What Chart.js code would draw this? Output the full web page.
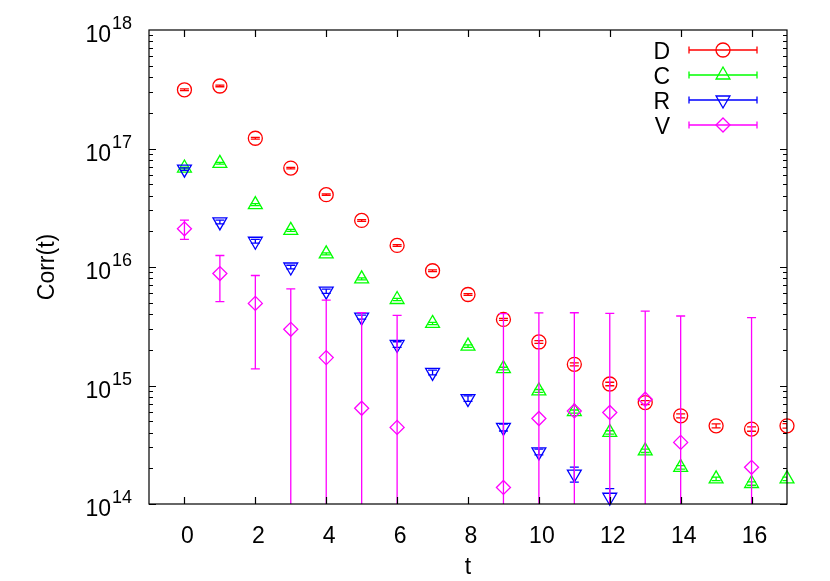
<!DOCTYPE html>
<html>
<head>
<meta charset="utf-8">
<script src="https://cdn.jsdelivr.net/npm/chart.js@4/dist/chart.umd.min.js"></script>
<style>
  html, body { margin: 0; padding: 0; background: #fff; }
  #wrap { width: 830px; height: 581px; }
</style>
</head>
<body>
<div id="wrap"><canvas id="corrChart" width="830" height="581"></canvas></div>
<script>
'use strict';

// time slices and tick positions
const T_VALUES = [0, 1, 2, 3, 4, 5, 6, 7, 8, 9, 10, 11, 12, 13, 14, 15, 16, 17];
const X_TICKS = [0, 2, 4, 6, 8, 10, 12, 14, 16];
const Y_TICKS = [1e14, 1e15, 1e16, 1e17, 1e18];

// correlators (null = not shown)
const D_CORR = [3.13e17, 3.37e17, 1.22e17, 6.84e16, 4.08e16, 2.47e16, 1.52e16, 9.3e15, 5.86e15,
  3.61e15, 2.33e15, 1.51e15, 1.03e15, 7.18e14, 5.55e14, 4.57e14, 4.29e14, 4.57e14];
const D_ERR = [5e15, 5e15, 2e15, 1e15, 6e14, 4e14, 2.5e14, 1.5e14, 1e14,
  7e13, 6e13, 4.5e13, 3.5e13, 2.7e13, 2.2e13, 1.8e13, 1.8e13, 2e13];

const C_CORR = [6.84e16, 7.5e16, 3.36e16, 2.04e16, 1.29e16, 7.94e15, 5.32e15, 3.34e15, 2.15e15,
  1.39e15, 9.0e14, 6.03e14, 4.02e14, 2.81e14, 2.04e14, 1.63e14, 1.49e14, 1.63e14];
const C_ERR = [1.2e15, 1.3e15, 6e14, 4e14, 2.6e14, 1.6e14, 1.1e14, 7e13, 5e13,
  3.5e13, 2.5e13, 1.8e13, 1.3e13, 9e12, 7e12, 5.5e12, 5e12, 5.5e12];

const R_CORR = [6.7e16, 2.4e16, 1.65e16, 1.0e16, 6.25e15, 3.78e15, 2.22e15, 1.29e15, 7.76e14,
  4.43e14, 2.75e14, 1.79e14, 1.14e14, null, null, null, null, null];
const R_ERR = [1.5e15, 9e14, 6e14, 3.5e14, 2.5e14, 1.5e14, 1.2e14, 6e13, 4e13,
  3e13, 1.5e13, 2.6e13, 2.1e13, null, null, null, null, null];

const V_CORR = [2.1e16, 8.8e15, 4.93e15, 2.98e15, 1.72e15, 6.43e14, 4.43e14, null, null,
  1.38e14, 5.27e14, 6.1e14, 5.92e14, 7.65e14, 3.31e14, null, 2.04e14, null];
const V_ERR = [3.9e15, 3.7e15, 3.55e15, 3.57e15, 3.53e15, 3.47e15, 3.47e15, null, null,
  3.9e15, 3.58e15, 3.5e15, 3.47e15, 3.48e15, 3.53e15, null, 3.53e15, null];

const FONT = 'Liberation Sans, Arial, Helvetica, sans-serif';
const LINE_W = 1.3;
const CAP = 4.5;

const SERIES = [
  { label: 'D', values: D_CORR, errors: D_ERR, color: '#ff0000', style: 'circle', radius: 7, rotation: 0 },
  { label: 'C', values: C_CORR, errors: C_ERR, color: '#00ff00', style: 'triangle', radius: 8, rotation: 0 },
  { label: 'R', values: R_CORR, errors: R_ERR, color: '#0000ff', style: 'triangle', radius: 8, rotation: 180 },
  { label: 'V', values: V_CORR, errors: V_ERR, color: '#ff00ff', style: 'rectRot', radius: 7, rotation: 0 },
];

const makeDataset = (s, idx) => {
  const data = [];
  const errors = [];
  T_VALUES.forEach((t, i) => {
    if (s.values[i] == null) return;
    data.push({ x: t, y: s.values[i] });
    errors.push(s.errors[i]);
  });
  return {
    label: s.label,
    data,
    errors,
    showLine: false,
    clip: false,
    order: SERIES.length - idx,
    pointStyle: s.style,
    pointRotation: s.rotation,
    pointRadius: s.radius,
    pointHoverRadius: s.radius,
    pointBorderWidth: LINE_W,
    pointBorderColor: s.color,
    pointBackgroundColor: 'rgba(0,0,0,0)',
    borderColor: s.color,
  };
};

// vertical error bars, drawn right after each dataset so the stacking matches
const errorBarPlugin = {
  id: 'errorBars',
  afterDatasetDraw(chart, args) {
    const ds = chart.data.datasets[args.index];
    const { ctx, chartArea: area, scales: { x, y } } = chart;
    ctx.save();
    ctx.beginPath();
    ctx.rect(area.left, area.top, area.right - area.left, area.bottom - area.top);
    ctx.clip();
    ctx.strokeStyle = ds.borderColor;
    ctx.lineWidth = LINE_W;
    ds.data.forEach((pt, i) => {
      const err = ds.errors[i];
      if (err == null) return;
      const px = x.getPixelForValue(pt.x);
      const lo = pt.y - err;
      const yHi = y.getPixelForValue(pt.y + err);
      const yLo = lo > 0 ? y.getPixelForValue(lo) : area.bottom + 20;
      ctx.beginPath();
      ctx.moveTo(px, yLo);
      ctx.lineTo(px, yHi);
      ctx.moveTo(px - CAP, yHi);
      ctx.lineTo(px + CAP, yHi);
      if (lo > 0) {
        ctx.moveTo(px - CAP, yLo);
        ctx.lineTo(px + CAP, yLo);
      }
      ctx.stroke();
    });
    ctx.restore();
  },
};

// gnuplot-ish frame: border, inward ticks on all sides, 10^n labels, key
const framePlugin = {
  id: 'frame',
  afterDraw(chart) {
    const { ctx, chartArea: a, scales: { x, y } } = chart;
    ctx.save();
    ctx.strokeStyle = '#000';
    ctx.lineWidth = 1.2;
    ctx.strokeRect(a.left, a.top, a.right - a.left, a.bottom - a.top);

    ctx.beginPath();
    X_TICKS.forEach((v) => {
      const px = Math.round(x.getPixelForValue(v)) + 0.5;
      ctx.moveTo(px, a.bottom);
      ctx.lineTo(px, a.bottom - 7);
      ctx.moveTo(px, a.top);
      ctx.lineTo(px, a.top + 7);
    });
    for (let e = 14; e < 18; e++) {
      for (let m = 1; m <= 9; m++) {
        const py = Math.round(y.getPixelForValue(m * Math.pow(10, e))) + 0.5;
        const len = m === 1 ? 7 : 4;
        ctx.moveTo(a.left, py);
        ctx.lineTo(a.left + len, py);
        ctx.moveTo(a.right, py);
        ctx.lineTo(a.right - len, py);
      }
    }
    ctx.stroke();

    ctx.fillStyle = '#000';
    Y_TICKS.forEach((v) => {
      const py = y.getPixelForValue(v);
      ctx.font = '23px ' + FONT;
      ctx.textAlign = 'right';
      ctx.textBaseline = 'alphabetic';
      ctx.fillText('10', 111, py + 12);
      ctx.font = '18px ' + FONT;
      ctx.textAlign = 'left';
      ctx.fillText(String(Math.round(Math.log10(v))), 112, py - 1);
    });

    const drawPoint = Chart.helpers && Chart.helpers.drawPoint;
    SERIES.forEach((s, i) => {
      const ly = 50 + i * 25;
      ctx.font = '23px ' + FONT;
      ctx.textAlign = 'right';
      ctx.fillStyle = '#000';
      ctx.fillText(s.label, 670, ly + 8.5);
      ctx.strokeStyle = s.color;
      ctx.lineWidth = LINE_W;
      ctx.beginPath();
      ctx.moveTo(689, ly);
      ctx.lineTo(757, ly);
      ctx.moveTo(689, ly - 3.5);
      ctx.lineTo(689, ly + 3.5);
      ctx.moveTo(757, ly - 3.5);
      ctx.lineTo(757, ly + 3.5);
      ctx.stroke();
      ctx.fillStyle = 'rgba(0,0,0,0)';
      if (drawPoint) {
        drawPoint(ctx, { pointStyle: s.style, rotation: s.rotation, radius: s.radius, borderWidth: LINE_W }, 723, ly);
      }
    });
    ctx.restore();
  },
};

const chartConfig = {
  type: 'scatter',
  data: { datasets: SERIES.map(makeDataset) },
  options: {
    responsive: false,
    animation: false,
    events: [],
    layout: { padding: { top: 30, right: 43, left: 0, bottom: 0 } },
    scales: {
      x: {
        type: 'linear',
        min: -1,
        max: 17,
        afterBuildTicks: (s) => { s.ticks = X_TICKS.map((v) => ({ value: v })); },
        grid: { display: false },
        border: { display: false },
        ticks: { color: '#000', font: { family: FONT, size: 23 }, padding: 11, labelOffset: 3, maxRotation: 0 },
        title: { display: true, text: 't', color: '#000', font: { family: FONT, size: 23 }, padding: 0 },
        afterFit: (s) => { s.height = 77; },
      },
      y: {
        type: 'logarithmic',
        min: 1e14,
        max: 1e18,
        afterBuildTicks: (s) => { s.ticks = Y_TICKS.map((v) => ({ value: v })); },
        grid: { display: false },
        border: { display: false },
        ticks: { display: false },
        title: { display: true, text: 'Corr(t)', color: '#000', font: { family: FONT, size: 23 }, padding: { top: 34, bottom: 0 } },
        afterFit: (s) => { s.width = 149; },
      },
    },
    plugins: {
      legend: { display: false },
      tooltip: { enabled: false },
    },
  },
  plugins: [errorBarPlugin, framePlugin],
};

new Chart(document.getElementById('corrChart'), chartConfig);
</script>
</body>
</html>
